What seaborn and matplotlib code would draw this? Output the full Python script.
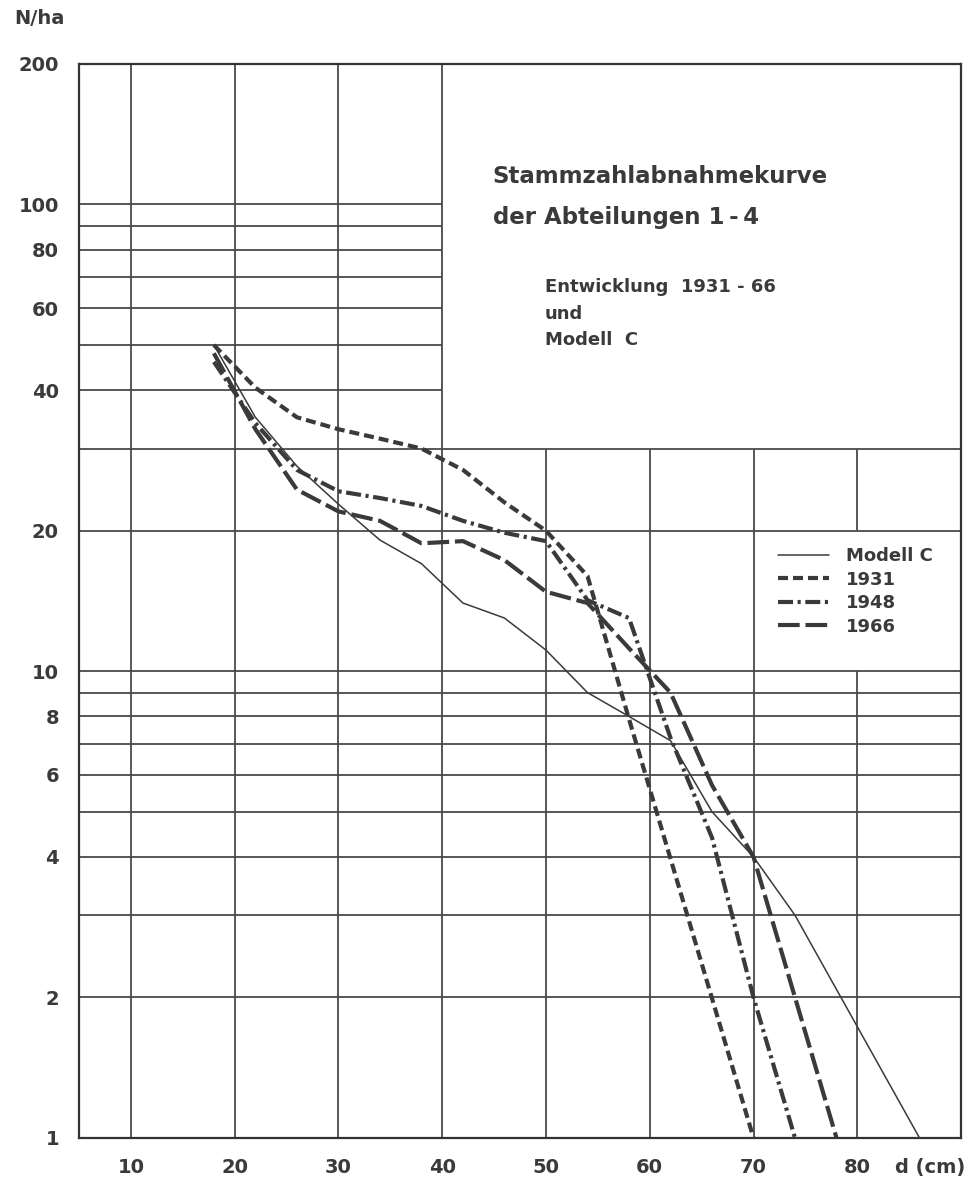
import matplotlib
matplotlib.use("Agg")
import matplotlib.pyplot as plt
import seaborn as sns
import pandas as pd

# ---- data ----
series_names = ["Modell C", "1931", "1948", "1966"]

d_modell = [18, 22, 26, 30, 34, 38, 42, 46, 50, 54, 58, 62, 66, 70, 74, 86]
n_modell = [50, 35, 27.5, 22.8, 19.1, 17.0, 14.0, 13.0, 11.1, 9.0, 8.0, 7.1, 5.0, 4.0, 3.0, 1.0]

d_1931 = [18, 22, 26, 30, 34, 38, 42, 46, 50, 54, 58, 70]
n_1931 = [50, 40.5, 35, 33, 31.5, 30, 27, 23, 20, 16, 7.9, 1.0]

d_1948 = [18, 22, 26, 30, 34, 38, 42, 46, 50, 54, 58, 62, 66, 70, 74]
n_1948 = [46, 34, 27, 24.3, 23.5, 22.6, 21, 19.8, 19, 14.2, 13, 7.2, 4.4, 2.0, 1.0]

d_1966 = [18, 22, 26, 30, 34, 38, 42, 46, 50, 54, 58, 62, 66, 70, 74, 78]
n_1966 = [48, 33, 24.5, 22, 21, 18.8, 19, 17.3, 14.8, 14, 11.2, 9, 5.7, 4.0, 2.0, 1.0]

y_ticks = [1, 2, 4, 6, 8, 10, 20, 40, 60, 80, 100, 200]
y_ticklabels = ["1", "2", "4", "6", "8", "10", "20", "40", "60", "80", "100", "200"]
x_ticks = [10, 20, 30, 40, 50, 60, 70, 80, 87]
x_ticklabels = ["10", "20", "30", "40", "50", "60", "70", "80", "d (cm)"]

title_lines = ["Stammzahlabnahmekurve", "der Abteilungen 1\u2009-\u20094"]
sub_lines = ["Entwicklung  1931 - 66", "und", "Modell  C"]

frames = []
for name, d, n in zip(series_names,
                      [d_modell, d_1931, d_1948, d_1966],
                      [n_modell, n_1931, n_1948, n_1966]):
    frames.append(pd.DataFrame({"d": d, "N": n, "Reihe": name}))
df = pd.concat(frames, ignore_index=True)

# ---- style ----
sns.set_theme(style="white")
plt.rcParams["font.family"] = ["DejaVu Sans"]
plt.rcParams["font.weight"] = "bold"

ink = "#3a3a3a"
grid_c = "#4a4a4a"

fig = plt.figure(figsize=(9.74, 11.85), dpi=100)
ax = fig.add_axes([0.0811, 0.0397, 0.9056, 0.9063])

# custom partial grid
glw = 1.3
ax.hlines([40, 50, 60, 70, 80, 90, 100], 5, 40, color=grid_c, lw=glw, zorder=1)
ax.hlines([2, 3, 4, 5, 6, 7, 8, 9, 10, 20, 30], 5, 90, color=grid_c, lw=glw, zorder=1)
ax.vlines([10, 20, 30, 40], 1, 200, color=grid_c, lw=glw, zorder=1)
ax.vlines([50, 60, 70], 1, 30, color=grid_c, lw=glw, zorder=1)
ax.vlines([80], 1, 10, color=grid_c, lw=glw, zorder=1)
ax.vlines([80], 20, 30, color=grid_c, lw=glw, zorder=1)

palette = {k: ink for k in series_names}
sizes = {"Modell C": 1.1, "1931": 3.0, "1948": 3.0, "1966": 3.0}
dashes = {"Modell C": "", "1931": (2.4, 1.2), "1948": (3.6, 1.1, 0.75, 1.1), "1966": (5.2, 1.4)}

sns.lineplot(data=df, x="d", y="N", hue="Reihe", style="Reihe", size="Reihe",
             hue_order=series_names, style_order=series_names, size_order=series_names,
             palette=palette, dashes=dashes, sizes=sizes, sort=False,
             estimator=None, ax=ax, zorder=3)

ax.set_yscale("log")
ax.set_xlim(5, 90)
ax.set_ylim(1, 200)
ax.set_yticks(y_ticks)
ax.set_yticklabels(y_ticklabels)
ax.yaxis.set_minor_locator(matplotlib.ticker.NullLocator())
ax.set_xticks(x_ticks)
ax.set_xticklabels(x_ticklabels)
ax.tick_params(axis="both", length=0, pad=14.4, labelsize=14, labelcolor=ink)
for lab in ax.get_xticklabels() + ax.get_yticklabels():
    lab.set_fontweight("bold")
ax.set_xlabel("")
ax.set_ylabel("")
for sp in ax.spines.values():
    sp.set_color("#333333")
    sp.set_linewidth(1.6)

# legend
handles, labels = ax.get_legend_handles_labels()
ax.legend(handles, labels, loc="upper left", bbox_to_anchor=(0.7925, 0.550),
          frameon=False, handlelength=2.83, handletextpad=0.94,
          labelspacing=0.3, borderpad=0, borderaxespad=0,
          prop={"weight": "bold", "size": 13}, labelcolor=ink)

# texts
ax.text(0.469, 0.895, title_lines[0], transform=ax.transAxes, fontsize=16.5,
        fontweight="bold", color=ink, va="center", ha="left")
ax.text(0.469, 0.857, title_lines[1], transform=ax.transAxes, fontsize=16.5,
        fontweight="bold", color=ink, va="center", ha="left")
for i, t in enumerate(sub_lines):
    ax.text(0.528, 0.792 - i * 0.0245, t, transform=ax.transAxes, fontsize=13,
            fontweight="bold", color=ink, va="center", ha="left")

fig.text(14 / 974, 1 - 18 / 1185, "N/ha", fontsize=14, fontweight="bold",
         color=ink, va="center", ha="left")

fig.savefig("out.png", dpi=100)
